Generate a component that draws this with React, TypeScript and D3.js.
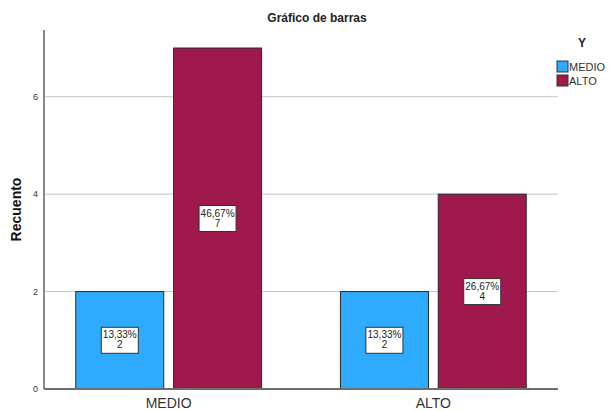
import React, { useEffect, useRef } from 'react';
import * as d3 from 'd3';

// categories on the x axis and the Y groups
const categories = ['MEDIO', 'ALTO'];
const groups = ['MEDIO', 'ALTO'];
// counts per category, one per group
const counts = [
    [2, 7],
    [2, 4],
];
// percentage labels shown in the boxes
const percents = [
    ['13,33%', '46,67%'],
    ['13,33%', '26,67%'],
];
const yTicks = [0, 2, 4, 6];
const colors = ['#2EAAFF', '#A0194D'];

const FONT = "'Liberation Sans', Arial, sans-serif";

const App = () => {
    const svgRef = useRef<SVGSVGElement | null>(null);

    useEffect(() => {
        if (!svgRef.current) return;
        const svg = d3.select(svgRef.current);
        svg.selectAll('*').remove();

        const width = 610;
        const height = 411;
        const plot = { left: 44, right: 558, top: 30, bottom: 389 };

        svg.attr('width', width).attr('height', height);

        const x = d3.scaleBand()
            .domain(categories)
            .range([plot.left, plot.right])
            .paddingInner(0.298)
            .paddingOuter(0.12);

        const xSub = d3.scaleBand()
            .domain(groups)
            .range([0, x.bandwidth()])
            .paddingInner(0.1)
            .paddingOuter(0);

        const y = d3.scaleLinear()
            .domain([0, 7.37])
            .range([plot.bottom, plot.top]);

        // gridlines
        svg.append('g')
            .selectAll('line')
            .data(yTicks.filter(t => t > 0))
            .enter()
            .append('line')
            .attr('x1', plot.left)
            .attr('x2', plot.right)
            .attr('y1', d => y(d))
            .attr('y2', d => y(d))
            .style('stroke', '#c4c4c4')
            .style('stroke-width', '1px');

        // tick labels
        svg.append('g')
            .selectAll('text')
            .data(yTicks)
            .enter()
            .append('text')
            .attr('x', 38)
            .attr('y', d => y(d))
            .attr('dy', '0.35em')
            .style('text-anchor', 'end')
            .style('font-family', FONT)
            .style('font-size', '9px')
            .style('fill', '#333')
            .text(d => d);

        // bars
        const cat = svg.append('g')
            .selectAll('g')
            .data(categories)
            .enter()
            .append('g')
            .attr('transform', d => `translate(${x(d)},0)`);

        cat.selectAll('rect')
            .data((d, i) => counts[i].map((v, j) => ({ v, j })))
            .enter()
            .append('rect')
            .attr('x', d => xSub(groups[d.j]) as number)
            .attr('y', d => y(d.v))
            .attr('width', xSub.bandwidth())
            .attr('height', d => y(0) - y(d.v))
            .style('fill', d => colors[d.j])
            .style('stroke', '#2a2a2a')
            .style('stroke-width', '1px');

        // value boxes
        const boxW = 37;
        const boxH = 26;
        const labels = cat.selectAll('g.lbl')
            .data((d, i) => counts[i].map((v, j) => ({ v, j, p: percents[i][j] })))
            .enter()
            .append('g')
            .attr('class', 'lbl')
            .attr('transform', d => {
                const cx = (xSub(groups[d.j]) as number) + xSub.bandwidth() / 2;
                const cy = (y(d.v) + y(0)) / 2;
                return `translate(${cx},${cy})`;
            });

        labels.append('rect')
            .attr('x', -boxW / 2)
            .attr('y', -boxH / 2)
            .attr('width', boxW)
            .attr('height', boxH)
            .style('fill', '#fff')
            .style('stroke', '#333')
            .style('stroke-width', '1px');

        labels.append('text')
            .attr('y', -2)
            .style('text-anchor', 'middle')
            .style('font-family', FONT)
            .style('font-size', '10px')
            .style('fill', '#222')
            .text(d => d.p);

        labels.append('text')
            .attr('y', 8)
            .style('text-anchor', 'middle')
            .style('font-family', FONT)
            .style('font-size', '10px')
            .style('fill', '#222')
            .text(d => d.v);

        // axes lines
        svg.append('line')
            .attr('x1', plot.left)
            .attr('x2', plot.left)
            .attr('y1', plot.top)
            .attr('y2', plot.bottom)
            .style('stroke', '#8a8a8a')
            .style('stroke-width', '2px');

        svg.append('line')
            .attr('x1', plot.left)
            .attr('x2', plot.right)
            .attr('y1', plot.bottom)
            .attr('y2', plot.bottom)
            .style('stroke', '#6e6e6e')
            .style('stroke-width', '2px');

        // category labels
        svg.append('g')
            .selectAll('text')
            .data(categories)
            .enter()
            .append('text')
            .attr('x', d => (x(d) as number) + x.bandwidth() / 2)
            .attr('y', 408)
            .style('text-anchor', 'middle')
            .style('font-family', FONT)
            .style('font-size', '14px')
            .style('fill', '#333')
            .text(d => d);

        // title
        svg.append('text')
            .attr('x', 317)
            .attr('y', 22)
            .style('text-anchor', 'middle')
            .style('font-family', FONT)
            .style('font-size', '12px')
            .style('font-weight', 'bold')
            .style('fill', '#222')
            .text('Gráfico de barras');

        // y axis title
        svg.append('text')
            .attr('transform', `translate(21,${(plot.top + plot.bottom) / 2}) rotate(-90)`)
            .style('text-anchor', 'middle')
            .style('font-family', FONT)
            .style('font-size', '14px')
            .style('font-weight', 'bold')
            .style('fill', '#111')
            .text('Recuento');

        // legend
        svg.append('text')
            .attr('x', 582)
            .attr('y', 47)
            .style('text-anchor', 'middle')
            .style('font-family', FONT)
            .style('font-size', '12px')
            .style('font-weight', 'bold')
            .style('fill', '#222')
            .text('Y');

        const leg = svg.append('g')
            .selectAll('g')
            .data(groups)
            .enter()
            .append('g')
            .attr('transform', (d, i) => `translate(557,${61 + i * 14})`);

        leg.append('rect')
            .attr('width', 11)
            .attr('height', 11)
            .style('fill', (d, i) => colors[i])
            .style('stroke', '#333')
            .style('stroke-width', '1px');

        leg.append('text')
            .attr('x', 12)
            .attr('y', 10)
            .style('font-family', FONT)
            .style('font-size', '11px')
            .style('fill', '#333')
            .text(d => d);
    }, []);

    return (
        <svg ref={svgRef} style={{ position: 'absolute', left: 0, top: 0 }}></svg>
    );
};

export default App;
